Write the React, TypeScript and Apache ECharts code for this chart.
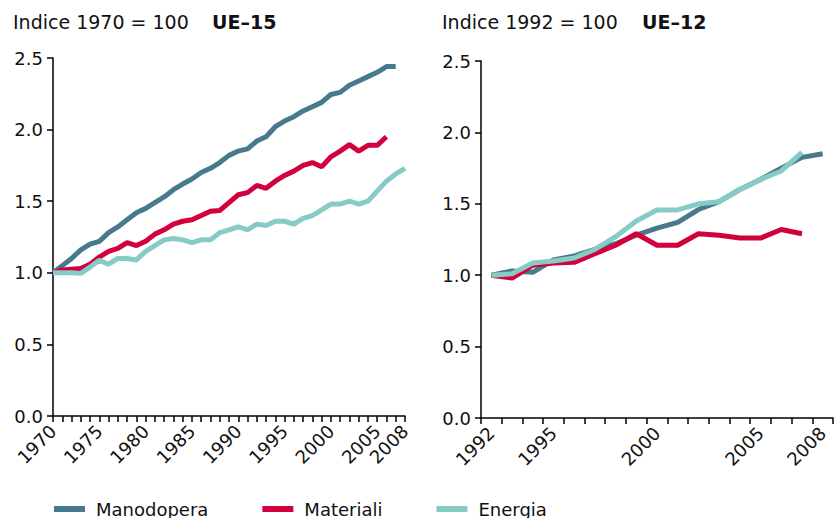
import React, { useEffect, useRef } from "react";
import * as echarts from "echarts";

const yearsEU15: string[] = [];
for (let y = 1970; y <= 2008; y++) yearsEU15.push(String(y));
const yearsEU12: string[] = [];
for (let y = 1992; y <= 2008; y++) yearsEU12.push(String(y));

const labelsEU15 = ["1970", "1975", "1980", "1985", "1990", "1995", "2000", "2005", "2008"];
const labelsEU12 = ["1992", "1995", "2000", "2005", "2008"];

const seriesNames = ["Manodopera", "Materiali", "Energia"];
const colors = ["#477a8c", "#d2003c", "#86cbc6"];

// UE-15, index 1970 = 1
const manodopera15 = [
  1.0, 1.05, 1.1, 1.16, 1.2, 1.22, 1.28, 1.32, 1.37, 1.42, 1.45, 1.49, 1.53, 1.58, 1.62,
  1.655, 1.7, 1.73, 1.77, 1.82, 1.85, 1.865, 1.92, 1.95, 2.02, 2.06, 2.09, 2.13, 2.16,
  2.19, 2.245, 2.26, 2.31, 2.34, 2.37, 2.4, 2.44, 2.44,
];
const materiali15 = [
  1.0, 1.02, 1.025, 1.03, 1.06, 1.11, 1.15, 1.17, 1.21, 1.19, 1.22, 1.27, 1.3, 1.34, 1.36,
  1.37, 1.4, 1.43, 1.435, 1.49, 1.545, 1.56, 1.61, 1.59, 1.64, 1.68, 1.71, 1.75, 1.77,
  1.74, 1.81, 1.85, 1.895, 1.85, 1.89, 1.89, 1.95,
];
const energia15 = [
  1.0, 1.0, 1.0, 0.996, 1.04, 1.087, 1.06, 1.1, 1.1, 1.09, 1.15, 1.19, 1.23, 1.24, 1.23,
  1.21, 1.23, 1.23, 1.28, 1.3, 1.32, 1.3, 1.34, 1.33, 1.36, 1.36, 1.34, 1.38, 1.4, 1.44,
  1.48, 1.48, 1.5, 1.48, 1.5, 1.57, 1.64, 1.69, 1.73,
];

// UE-12, index 1992 = 1
const manodopera12 = [
  1.0, 1.03, 1.02, 1.107, 1.135, 1.18, 1.22, 1.28, 1.33, 1.37, 1.46, 1.515, 1.6, 1.67,
  1.75, 1.825, 1.85,
];
const materiali12 = [
  1.0, 0.98, 1.07, 1.085, 1.09, 1.15, 1.21, 1.29, 1.21, 1.21, 1.29, 1.28, 1.26, 1.26,
  1.32, 1.29,
];
const energia12 = [
  1.0, 1.01, 1.085, 1.1, 1.12, 1.18, 1.27, 1.38, 1.457, 1.457, 1.5, 1.515, 1.6, 1.67,
  1.73, 1.86,
];

const FONT = "DejaVu Sans";

export default function App() {
  const ref = useRef<HTMLDivElement>(null);
  useEffect(() => {
    if (!ref.current) return;
    const chart = echarts.init(ref.current, null, { renderer: "svg" });
    const axisText = { fontFamily: FONT, fontSize: 18, color: "#111" };
    const xAxisCommon = {
      type: "category" as const,
      axisLine: { show: true, lineStyle: { color: "#000", width: 1.5 } },
      axisTick: { show: true, interval: 0, length: 6, lineStyle: { color: "#000", width: 1.5 } },
      splitLine: { show: false },
    };
    const yAxisCommon = {
      type: "value" as const,
      min: 0,
      max: 2.5,
      interval: 0.5,
      axisLine: { show: true, lineStyle: { color: "#000", width: 1.5 } },
      axisTick: { show: true, length: 6, lineStyle: { color: "#000", width: 1.5 } },
      splitLine: { show: false },
      axisLabel: {
        ...axisText,
        margin: 10,
        formatter: (v: number) => v.toFixed(1),
      },
    };
    const lineSeries = (name: string, data: number[], idx: number, color: string) => ({
      name,
      type: "line" as const,
      xAxisIndex: idx,
      yAxisIndex: idx,
      data,
      symbol: "none",
      lineStyle: { width: 5, color },
      itemStyle: { color },
    });
    chart.setOption({
      animation: false,
      backgroundColor: "#fff",
      title: [
        {
          text: "Indice 1970 = 100",
          left: 13,
          top: 12,
          padding: 0,
          textStyle: { fontFamily: FONT, fontSize: 19, fontWeight: "normal", color: "#111" },
        },
        {
          text: "UE–15",
          left: 212,
          top: 12,
          padding: 0,
          textStyle: { fontFamily: FONT, fontSize: 19, fontWeight: "bold", color: "#111" },
        },
        {
          text: "Indice 1992 = 100",
          left: 442,
          top: 12,
          padding: 0,
          textStyle: { fontFamily: FONT, fontSize: 19, fontWeight: "normal", color: "#111" },
        },
        {
          text: "UE–12",
          left: 642,
          top: 12,
          padding: 0,
          textStyle: { fontFamily: FONT, fontSize: 19, fontWeight: "bold", color: "#111" },
        },
      ],
      legend: {
        left: 54,
        top: 500,
        padding: 0,
        itemWidth: 31,
        itemHeight: 6,
        itemGap: 54,
        icon: "rect",
        textStyle: { fontFamily: FONT, fontSize: 18, color: "#111", padding: [0, 0, 0, 6] },
        data: seriesNames,
      },
      grid: [
        { left: 53, top: 58, width: 352, height: 358 },
        { left: 481, top: 61, width: 352, height: 357 },
      ],
      xAxis: [
        {
          ...xAxisCommon,
          gridIndex: 0,
          data: yearsEU15,
          boundaryGap: false,
          axisLabel: {
            ...axisText,
            rotate: 45,
            margin: 12,
            interval: (_i: number, v: string) => labelsEU15.includes(v),
          },
        },
        {
          ...xAxisCommon,
          gridIndex: 1,
          data: yearsEU12,
          boundaryGap: true,
          axisLabel: {
            ...axisText,
            rotate: 45,
            margin: 12,
            interval: (_i: number, v: string) => labelsEU12.includes(v),
          },
        },
      ],
      yAxis: [
        { ...yAxisCommon, gridIndex: 0 },
        { ...yAxisCommon, gridIndex: 1 },
      ],
      series: [
        lineSeries(seriesNames[0], manodopera15, 0, colors[0]),
        lineSeries(seriesNames[1], materiali15, 0, colors[1]),
        lineSeries(seriesNames[2], energia15, 0, colors[2]),
        lineSeries(seriesNames[0], manodopera12, 1, colors[0]),
        lineSeries(seriesNames[1], materiali12, 1, colors[1]),
        lineSeries(seriesNames[2], energia12, 1, colors[2]),
      ],
    });
    return () => chart.dispose();
  }, []);
  return (
    <div
      ref={ref}
      style={{ position: "absolute", left: 0, top: 0, width: 836, height: 518 }}
    />
  );
}
